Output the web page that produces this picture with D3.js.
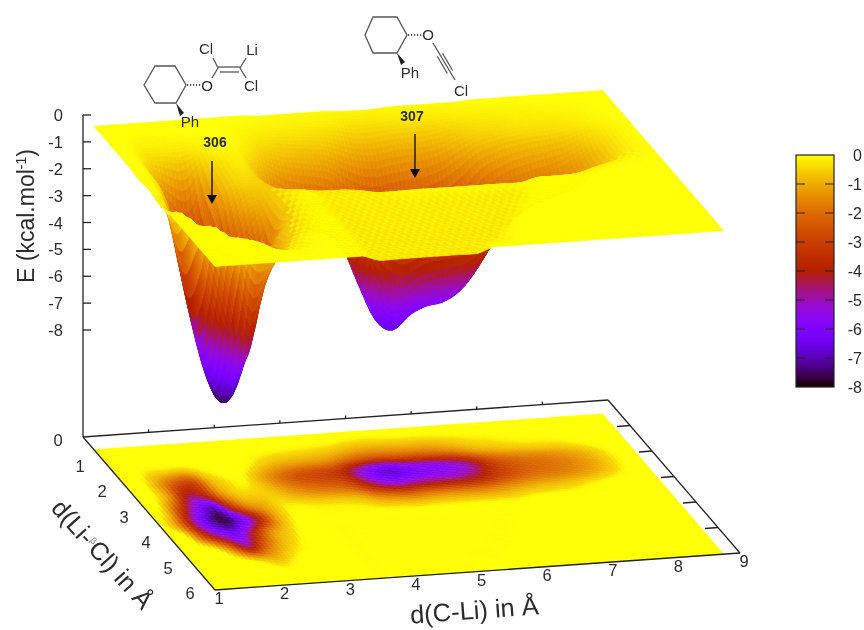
<!DOCTYPE html>
<html><head><meta charset="utf-8">
<script src="https://cdn.jsdelivr.net/npm/d3@7"></script>
<style>html,body{margin:0;background:#fff}svg{display:block;font-family:"Liberation Sans",Arial,sans-serif;filter:blur(.5px)}text{fill:#2b2b2b}</style>
</head><body><svg id="c" width="864" height="630"></svg>
<script>
// Energy, kcal/mol. Columns: d(C-Li) 1..8.75 by .25; rows: d(Li-Cl) .5..6 by .5
const dCLi = d3.range(32).map(i => 1 + i * 0.25);
const dLiCl = d3.range(12).map(i => 0.5 + i * 0.5);
const energy = [
 [0,0,0,0,0,0,0,0,0,0,-.05,-.05,-.05,-.05,-.05,-.1,-.1,-.1,-.05,-.05,-.05,-.05,-.05,0,0,0,0,0,0,0,0,0],
 [0,0,-.05,-.06,0,0,0,0,-.08,-.15,-.22,-.27,-.3,-.35,-.45,-.6,-.65,-.6,-.55,-.55,-.5,-.4,-.3,-.25,-.2,-.15,-.15,-.1,-.08,-.05,0,0],
 [0,-.05,-.4,-.5,-.6,-.3,-.1,-.05,-.25,-.65,-.95,-1.1,-1.2,-1.35,-1.85,-2.25,-2.4,-2.25,-2.15,-2.1,-1.85,-1.45,-1,-.8,-.65,-.55,-.5,-.45,-.3,-.15,-.05,0],
 [0,-.1,-1.2,-2.6,-3,-1,-.4,-.2,-.85,-1.7,-2.4,-2.8,-3,-3.5,-4.9,-6.2,-6.6,-6.1,-5.8,-5.7,-5.3,-4.5,-3.2,-2.5,-2.1,-1.9,-1.7,-1.4,-1,-.5,-.15,0],
 [-.05,-.2,-1.5,-4.4,-4,-1.6,-.6,-.5,-.65,-1.2,-1.7,-2,-2.2,-2.6,-4,-5.1,-5.4,-5,-4.8,-4.7,-4.5,-3.9,-3.1,-2.5,-2.1,-1.9,-1.7,-1.4,-1,-.5,-.15,0],
 [0,-.6,-3.4,-5.8,-7,-3.6,-1.6,-1,-.4,-.4,-.5,-.55,-.6,-.8,-1.4,-1.7,-1.9,-1.7,-1.6,-1.6,-1.6,-1.5,-1.2,-.95,-.8,-.7,-.55,-.35,-.2,-.1,-.05,0],
 [-.1,-1.2,-4.4,-6.8,-7.6,-6.2,-3.9,-1.3,-.3,-.05,-.2,-.2,-.2,-.2,-.2,-.2,-.2,-.2,-.2,-.2,-.2,-.2,-.2,-.05,-.05,-.05,-.05,0,0,0,0,0],
 [0,-.15,-3,-5.2,-6.2,-4.1,-1.6,-.7,-.15,-.05,-.2,-.2,-.2,-.2,-.2,-.2,-.2,-.2,-.2,-.2,-.2,-.2,0,0,0,0,0,0,0,0,0,0],
 [0,0,-.15,-2,-4.6,-2.4,-1,-.4,-.05,0,-.2,-.2,-.2,-.2,-.2,-.2,-.2,-.2,-.2,-.2,-.2,0,0,0,0,0,0,0,0,0,0,0],
 [0,0,0,-.05,-.6,-.9,-.4,-.1,0,0,-.2,-.2,-.2,-.2,-.2,-.2,-.2,-.2,-.2,-.2,0,0,0,0,0,0,0,0,0,0,0,0],
 [0,0,0,0,0,-.1,-.1,-.03,0,0,-.2,-.2,-.2,-.2,-.2,-.2,-.2,-.2,-.2,0,0,0,0,0,0,0,0,0,0,0,0,0],
 [0,0,0,0,0,0,0,0,0,0,-.2,-.2,-.2,-.2,-.2,-.2,-.2,0,0,0,0,0,0,0,0,0,0,0,0,0,0,0]
];
const xTicks = [1,2,3,4,5,6,7,8,9];
const yTicks = [0,1,2,3,4,5,6];
const zTicks = [0,-1,-2,-3,-4,-5,-6,-7,-8];
const barTicks = [0,-1,-2,-3,-4,-5,-6,-7,-8];

const svg = d3.select("#c");
// oblique projection
const xPx = d3.scaleLinear([1,9],[83,608]), xPy = d3.scaleLinear([1,9],[0,-37]);
const yPx = d3.scaleLinear([0,6],[0,132]), yPy = d3.scaleLinear([0,6],[0,153]);
const zPy = d3.scaleLinear([-8,0],[330,115]);
const BASE = 437;
const proj = (x,y,zy) => [xPx(x)+yPx(y), xPy(x)+yPy(y)+zy];
// gnuplot default pm3d palette over the colour range
const gray = d3.scaleLinear([-8,0],[0,1]).clamp(true);
const pal = v => { const g = gray(v);
  return d3.rgb(255*Math.sqrt(g), 255*g*g*g, 255*Math.max(0,Math.sin(2*Math.PI*g))).formatHex(); };

// smooth shading between table nodes (like pm3d interpolate)
const cr = (a,b,c,d,t) => .5*((2*b)+(c-a)*t+(2*a-5*b+4*c-d)*t*t+(3*b-a-3*c+d)*t*t*t);
const cl = (a,i) => Math.max(0,Math.min(a.length-1,i));
function sample(r,c,tr,tc){
  const col = i => { const R = energy[cl(energy,i)];
    return cr(R[cl(R,c-1)],R[c],R[cl(R,c+1)],R[cl(R,c+2)],tc); };
  return Math.min(0,Math.max(-8,cr(col(r-1),col(r),col(r+1),col(r+2),tr)));
}
const SX = 4, SY = 8;
const nc = (dCLi.length-1)*SX, nr = (dLiCl.length-1)*SY;
const gx = i => d3.scaleLinear([0,nc],[dCLi[0],dCLi[dCLi.length-1]])(i);
const gy = j => d3.scaleLinear([0,nr],[dLiCl[0],dLiCl[dLiCl.length-1]])(j);
const val = (i,j) => { const c=Math.min(dCLi.length-2,Math.floor(i/SX)), r=Math.min(dLiCl.length-2,Math.floor(j/SY));
  return sample(r,c,(j-r*SY)/SY,(i-c*SX)/SX); };
const V = d3.range(nr+1).map(j => d3.range(nc+1).map(i => val(i,j)));
// painter's order: far rows first, high x first
const quads = [];
for(let j=0;j<nr;j++) for(let i=nc-1;i>=0;i--) quads.push({i,j,v:(V[j][i]+V[j][i+1]+V[j+1][i]+V[j+1][i+1])/4});
const pathOf = (q,zf) => { const {i,j}=q;
  const P=[[i,j],[i+1,j],[i+1,j+1],[i,j+1]].map(([a,b])=>proj(gx(a),gy(b),zf(V[b][a])));
  return "M"+P.map(p=>p[0].toFixed(1)+","+p[1].toFixed(1)).join("L")+"Z"; };
function surface(zf,colour){
  svg.append("g").selectAll("path").data(quads).join("path")
    .attr("d",q=>pathOf(q,zf)).attr("fill",colour).attr("stroke",colour).attr("stroke-width",.6);
}
// projection on the base: the faint tint of the flat part fades out
surface(() => BASE, q => pal(q.v>-.4 ? -.4*Math.pow(q.v/-.4,4) : q.v));
// the surface itself, with the fine mesh moiré on nearly flat parts
surface(v => zPy(v)-1.5, q => {
  const flat = q.v<-.06 && q.v>-.55 && gy(q.j)>2.6;
  return pal(flat ? q.v*((2*q.i+q.j)%4<2?1.3:.5) : q.v);
});

// axes
const ax = svg.append("g").attr("stroke","#222").attr("fill","none").attr("stroke-width",1.3);
const ln = (a,b) => ax.append("path").attr("d",d3.line()([a,b]));
const c00=proj(1,0,BASE),c90=proj(9,0,BASE),c06=proj(1,6,BASE),c96=proj(9,6,BASE);
ln(c00,c90);ln(c00,c06);ln(c06,c96);ln(c90,c96);
ln(c00,[c00[0],zPy(0)]);
zTicks.forEach(z=>ln([83,zPy(z)],[91,zPy(z)]));
xTicks.slice(1,-1).forEach(x=>{const p=proj(x,0,BASE);ln(p,[p[0],p[1]-3]);});
yTicks.slice(1,-1).forEach(y=>{const p=proj(9,y,BASE);ln(p,[p[0]-13,p[1]+1]);});

const T = (x,y,s,o={}) => { const t=svg.append("text").attr("x",x).attr("y",y).attr("font-size",o.size||16.5)
    .attr("text-anchor",o.anchor||"middle").text(s);
  if(o.rot!=null) t.attr("transform",`rotate(${o.rot} ${x} ${y})`);
  if(o.bold) t.attr("font-weight","bold"); return t; };
zTicks.forEach(z=>T(63,zPy(z)+6,String(z),{anchor:"end"}));
yTicks.forEach(y=>{const p=proj(1,y,BASE);T(p[0]-25,p[1]+9,String(y));});
xTicks.forEach(x=>{const p=proj(x,6,BASE);T(p[0]+4,p[1]+14,String(x));});

// axis titles
const zt=T(34,216,"E (kcal.mol",{size:23,rot:-90});
zt.append("tspan").attr("font-size",14).attr("dy",-8).text("-1");
zt.append("tspan").attr("dy",8).text(")");
T(475,619,"d(C-Li) in Å",{size:25.5,rot:-4.2});
const yt=T(96,560,"d(Li-",{size:25,rot:48});
yt.append("tspan").attr("font-size",9).attr("dy",-8).attr("fill","#777").text("β");
yt.append("tspan").attr("dy",8).text("Cl) in Å");

// colour bar
const barY = d3.scaleLinear([0,-8],[155,387]);
const bar = svg.append("g");
bar.selectAll("rect").data(d3.range(155,387)).join("rect")
  .attr("x",796).attr("width",38).attr("y",d=>d).attr("height",1).attr("shape-rendering","crispEdges").attr("fill",d=>pal(barY.invert(d+.5)));
bar.append("rect").attr("x",796).attr("y",155).attr("width",38).attr("height",232).attr("fill","none").attr("stroke","#222").attr("stroke-width",1.2);
barTicks.forEach(t=>{
  if(t!==0&&t!==-8){[[796,805],[825,834]].forEach(([a,b])=>bar.append("line").attr("x1",a).attr("x2",b).attr("y1",barY(t)).attr("y2",barY(t)).attr("stroke","#222").attr("stroke-width",1));}
  T(862,barY(t)+6,String(t),{anchor:"end",size:16});
});

// arrows and compound numbers
const arrow=(x,y0,y1)=>{ svg.append("line").attr("x1",x).attr("x2",x).attr("y1",y0).attr("y2",y1-6).attr("stroke","#111").attr("stroke-width",1.4);
  svg.append("path").attr("d",`M${x-5},${y1-9}L${x+5},${y1-9}L${x},${y1}Z`).attr("fill","#111"); };
T(215,147,"306",{size:14,bold:true}); arrow(212,161,204);
T(412,121,"307",{size:14,bold:true}); arrow(415,134,178);

// structures
const st=svg.append("g").attr("stroke","#555").attr("fill","none").attr("stroke-width",1.3);
const bond=(a,b,c,d)=>st.append("line").attr("x1",a).attr("y1",b).attr("x2",c).attr("y2",d);
st.append("path").attr("d","M144,85L155,66L175,66L186,85L176,103L155,103Z");
st.append("line").attr("x1",187).attr("y1",85).attr("x2",202).attr("y2",85).attr("stroke-width",2).attr("stroke-dasharray","1.2 1.8");
svg.append("path").attr("d","M176,103L184,113L180,116Z").attr("fill","#222");
bond(212,78,218,68);bond(218,67,240,67);bond(220,72,239,72);bond(218,68,213,58);bond(240,68,246,58);bond(240,68,246,78);
st.append("path").attr("d","M365,35L373,17L397,17L407,35L397,53L373,53Z");
st.append("line").attr("x1",408).attr("y1",35).attr("x2",423).attr("y2",35).attr("stroke-width",2).attr("stroke-dasharray","1.2 1.8");
svg.append("path").attr("d","M397,53L405,62L401,65Z").attr("fill","#222");
bond(433,43,455,80);bond(442.6,53.5,452.6,70.5);bond(437.4,56.5,447.4,73.5);
[["Cl",206,54],["Li",252,55],["O",207,91],["Cl",251,91],["Ph",190,127]].forEach(d=>T(d[1],d[2],d[0],{size:15}));
[["O",428,40],["Ph",410,78],["Cl",461,96]].forEach(d=>T(d[1],d[2],d[0],{size:15}));
</script></body></html>
